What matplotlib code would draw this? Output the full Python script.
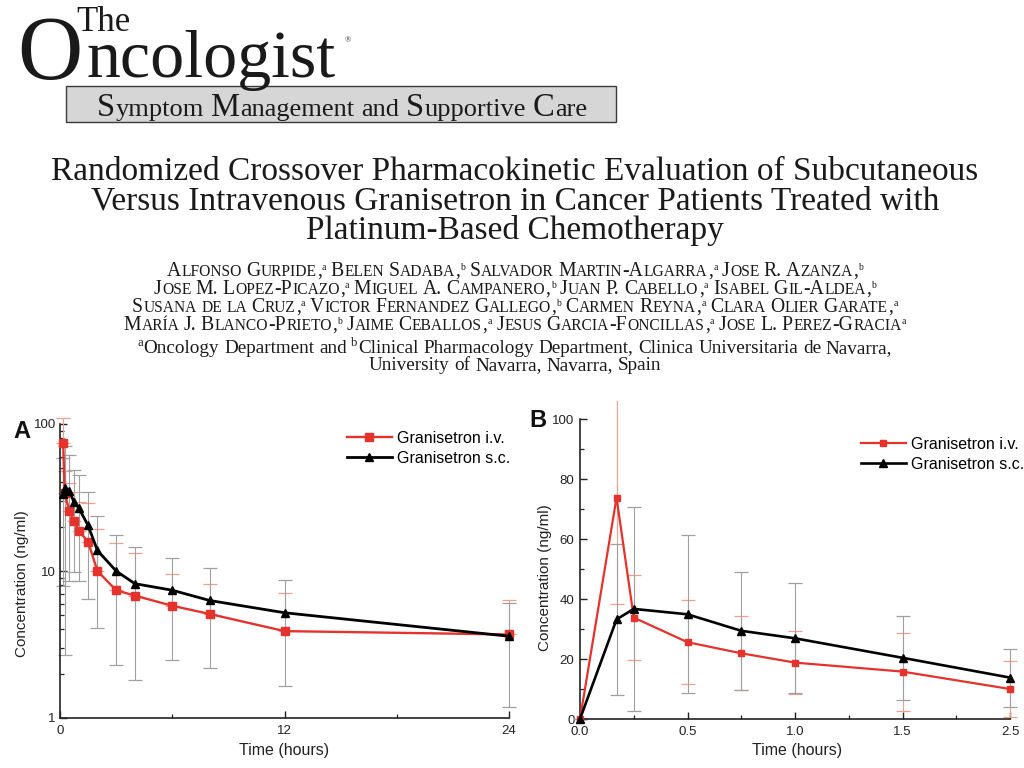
import numpy as np
import matplotlib
matplotlib.use("Agg")
import matplotlib.pyplot as plt
from matplotlib.ticker import FixedLocator, LogLocator, NullFormatter
from matplotlib.patches import Rectangle

# ---------------- data ----------------
time_h = [0.17, 0.25, 0.5, 0.75, 1, 1.5, 2, 3, 4, 6, 8, 12, 24]
iv_mean = [73.8, 33.8, 25.6, 21.9, 18.8, 15.8, 10.0, 7.4, 6.8, 5.8, 5.1, 3.9, 3.7]
iv_sd = [35.5, 14.2, 14.0, 12.3, 10.6, 13.0, 9.4, 8.0, 6.5, 3.7, 3.0, 3.2, 2.6]
sc_mean = [33.2, 36.7, 34.9, 29.4, 26.9, 20.4, 13.8, 10.0, 8.2, 7.4, 6.3, 5.2, 3.6]
sc_sd = [25.3, 34.0, 26.3, 19.6, 18.3, 14.0, 9.7, 7.7, 6.4, 4.9, 4.1, 3.55, 2.42]

# panel B: first 2.5 h (with the pre-dose zero)
n_early = 7
time_b = [0.0] + time_h[:n_early]
iv_b = [0.0] + iv_mean[:n_early]
iv_b_sd = [0.0] + iv_sd[:n_early]
sc_b = [0.0] + sc_mean[:n_early]
sc_b_sd = [0.0] + sc_sd[:n_early]
b_tick_pos = [0, 0.5, 1.0, 1.5, 2.0]
b_tick_labels = ["0.0", "0.5", "1.0", "1.5", "2.5"]

a_xticks = [0, 12, 24]
a_yticks = [1, 10, 100]
a_yticklabels = ["1", "10", "100"]
b_yticks = [0, 20, 40, 60, 80, 100]

series_labels = ["Granisetron i.v.", "Granisetron s.c."]

journal_the = "The"
journal_o = "O"
journal_rest = "ncologist"
section = "Symptom Management and Supportive Care"
title_lines = [
    "Randomized Crossover Pharmacokinetic Evaluation of Subcutaneous",
    "Versus Intravenous Granisetron in Cancer Patients Treated with",
    "Platinum-Based Chemotherapy",
]
author_lines = [
    "Alfonso Gurpide,^a Belen Sadaba,^b Salvador Martin-Algarra,^a Jose R. Azanza,^b",
    "Jose M. Lopez-Picazo,^a Miguel A. Campanero,^b Juan P. Cabello,^a Isabel Gil-Aldea,^b",
    "Susana de la Cruz,^a Victor Fernandez Gallego,^b Carmen Reyna,^a Clara Olier Garate,^a",
    "María J. Blanco-Prieto,^b Jaime Ceballos,^a Jesus Garcia-Foncillas,^a Jose L. Perez-Gracia^a",
]
affil_lines = [
    "^aOncology Department and ^bClinical Pharmacology Department, Clinica Universitaria de Navarra,",
    "University of Navarra, Navarra, Spain",
]

# ---------------- style ----------------
W, H = 1024, 768
SERIF = "Liberation Serif"
SANS = "Liberation Sans"
RED = "#e5322d"
IV_ERR = "#eea08c"
SC_ERR = "#a0a0a0"
INK = "#1a1a1a"

plt.rcParams["font.family"] = SANS
fig = plt.figure(figsize=(W / 100, H / 100), dpi=100)
fig.patch.set_facecolor("white")


def fx(x):
    return x / W


def fy(y):
    return 1 - y / H


renderer = fig.canvas.get_renderer()


def rich_line(line, y_base, cx, big, small, sup, mode, sup_raise, color=INK, word_gap=0.28):
    """Draw a line made of pieces of different sizes (small caps / initials / superscripts)."""
    pieces = []
    for wi, w in enumerate(line.split(" ")):
        runs = []
        i = 0
        while i < len(w):
            if w[i] == "^":
                runs.append([w[i + 1], "sup"])
                i += 2
                continue
            ch = w[i]
            if mode == "plain":
                kind = "big"
            else:
                kind = "small" if ch.islower() else "big"
            txt = ch.upper() if mode == "smallcaps" else ch
            if runs and runs[-1][1] == kind:
                runs[-1][0] += txt
            else:
                runs.append([txt, kind])
            i += 1
        for k, (txt, kind) in enumerate(runs):
            pieces.append((txt, kind, wi > 0 and k == 0))
    size_of = {"big": big, "small": small, "sup": sup}
    texts, widths, gaps = [], [], []
    for txt, kind, newword in pieces:
        t = fig.text(0, 0, txt, fontsize=size_of[kind], family=SERIF,
                     ha="left", va="baseline", color=color)
        texts.append((t, kind))
        widths.append(t.get_window_extent(renderer).width)
        gaps.append(word_gap * small * 100 / 72 if newword else 0.02 * small * 100 / 72)
    gaps[0] = 0
    total = sum(widths) + sum(gaps)
    x = cx - total / 2
    for (t, kind), w, g in zip(texts, widths, gaps):
        x += g
        dy = -sup_raise if kind == "sup" else 0
        t.set_position((fx(x), fy(y_base + dy)))
        x += w


# ---------------- header ----------------
fig.text(fx(17), fy(79), journal_o, fontsize=65, family=SERIF, color=INK,
         ha="left", va="baseline")
fig.text(fx(76), fy(31), journal_the, fontsize=25, family=SERIF, color=INK,
         ha="left", va="baseline")
fig.text(fx(86), fy(77), journal_rest, fontsize=49, family=SERIF, color=INK,
         ha="left", va="baseline")
fig.text(fx(345), fy(42), "\u00ae", fontsize=6, family=SERIF, color="#333333",
         ha="left", va="baseline")

fig.patches.append(Rectangle((fx(66), fy(122)), (616 - 66) / W, 36 / H,
                             transform=fig.transFigure, facecolor="#d6d6d6",
                             edgecolor="#3a3a3a", linewidth=1.0))
rich_line(section, 116, 342, 23.5, 19, 8, "initials", 0, word_gap=0.25)

for line, yb in zip(title_lines, [180, 209.5, 239]):
    fig.text(fx(515), fy(yb), line, fontsize=24, family=SERIF, color=INK,
             ha="center", va="baseline")

for line, yb in zip(author_lines, [276, 294, 312, 330]):
    rich_line(line, yb, 515, 14.2, 11.2, 7, "smallcaps", 6.0)

for line, yb in zip(affil_lines, [353, 370]):
    rich_line(line, yb, 515, 13.8, 13.8, 9, "plain", 6.5, word_gap=0.25)


# ---------------- panels ----------------
def ax_rect(l, t, r, b):
    return [l / W, 1 - b / H, (r - l) / W, (b - t) / H]


def style_axes(ax):
    for s in ["top", "right"]:
        ax.spines[s].set_visible(False)
    for s in ["left", "bottom"]:
        ax.spines[s].set_linewidth(1.2)
        ax.spines[s].set_color("#222222")
    ax.tick_params(which="major", direction="in", length=5, width=1.0,
                   labelsize=9.5, pad=3, colors="#222222")
    ax.tick_params(which="minor", direction="in", length=3, width=0.9, colors="#222222")
    ax.tick_params(axis="x", which="major", pad=5)
    ax.set_facecolor("none")


def unclip(container, clip_patch=None):
    for art in container.get_children():
        if clip_patch is None:
            art.set_clip_on(False)
        else:
            art.set_clip_on(True)
            art.set_clip_path(clip_patch)


# Panel A
axA = fig.add_axes(ax_rect(60, 424, 509, 718))
axA.set_yscale("log")
axA.set_xlim(0, 24)
axA.set_ylim(1, 100)
n = len(time_h)
eb = axA.errorbar(time_h, iv_mean, yerr=[np.zeros(n), iv_sd], fmt="none", ecolor=IV_ERR,
                  elinewidth=0.8, capsize=5, capthick=0.9, zorder=2)
unclip(eb)
eb = axA.errorbar(time_h, sc_mean, yerr=sc_sd, fmt="none", ecolor=SC_ERR,
                  elinewidth=0.8, capsize=5, capthick=0.9, zorder=2)
unclip(eb)
axA.plot(time_h, iv_mean, color=RED, lw=1.7, marker="s", ms=6, mec=RED, mfc=RED,
         label=series_labels[0], zorder=3, clip_on=False)
axA.plot(time_h, sc_mean, color="black", lw=2.0, marker="^", ms=5.5, mec="black",
         mfc="black", label=series_labels[1], zorder=4, clip_on=False)
axA.xaxis.set_major_locator(FixedLocator(a_xticks))
axA.xaxis.set_minor_locator(FixedLocator([6, 18]))
axA.set_yticks(a_yticks)
axA.set_yticklabels(a_yticklabels)
axA.yaxis.set_minor_locator(LogLocator(base=10, subs=np.arange(2, 10)))
axA.yaxis.set_minor_formatter(NullFormatter())
style_axes(axA)
axA.legend(loc="upper left", bbox_to_anchor=(fx(347), fy(431)), bbox_transform=fig.transFigure,
           frameon=False, fontsize=11.5, handlelength=2.8, handletextpad=0.3,
           labelspacing=0.3, borderpad=0, borderaxespad=0, numpoints=1)

fig.text(fx(22), fy(584), "Concentration (ng/ml)", rotation=90, ha="center", va="center",
         fontsize=11, color="#222222")
fig.text(fx(284), fy(751), "Time (hours)", ha="center", va="center", fontsize=11.5,
         color="#222222")
fig.text(fx(13), fy(438), "A", fontsize=17, fontweight="bold", ha="left", va="baseline",
         color="#111111")

# Panel B
axB = fig.add_axes(ax_rect(580, 419, 1010, 719))
axB.set_xlim(0, 2.0)
axB.set_ylim(0, 100)
# the panel image starts just below the affiliation text: error bars are cut there
panel_clip = Rectangle((0, 0), 1, fy(401), transform=fig.transFigure, visible=False)
fig.add_artist(panel_clip)
eb = axB.errorbar(time_b, iv_b, yerr=iv_b_sd, fmt="none", ecolor=IV_ERR,
                  elinewidth=0.8, capsize=5, capthick=0.9, zorder=2)
unclip(eb, panel_clip)
eb = axB.errorbar(time_b, sc_b, yerr=sc_b_sd, fmt="none", ecolor=SC_ERR,
                  elinewidth=0.8, capsize=5, capthick=0.9, zorder=2)
unclip(eb, panel_clip)
axB.plot(time_b, iv_b, color=RED, lw=1.6, marker="s", ms=4.8, mec=RED, mfc=RED,
         label=series_labels[0], zorder=3, clip_on=False)
axB.plot(time_b, sc_b, color="black", lw=1.9, marker="^", ms=5.2, mec="black",
         mfc="black", label=series_labels[1], zorder=4, clip_on=False)
axB.set_xticks(b_tick_pos)
axB.set_xticklabels(b_tick_labels)
axB.xaxis.set_minor_locator(FixedLocator([0.25, 0.75, 1.25, 1.75]))
axB.set_yticks(b_yticks)
axB.yaxis.set_minor_locator(FixedLocator([10, 30, 50, 70, 90]))
style_axes(axB)
axB.tick_params(axis="y", which="major", pad=4)
axB.legend(loc="upper left", bbox_to_anchor=(fx(861), fy(437)), bbox_transform=fig.transFigure,
           frameon=False, fontsize=11.5, handlelength=2.8, handletextpad=0.3,
           labelspacing=0.3, borderpad=0, borderaxespad=0, numpoints=1)

fig.text(fx(545), fy(578), "Concentration (ng/ml)", rotation=90, ha="center", va="center",
         fontsize=11, color="#222222")
fig.text(fx(797), fy(751), "Time (hours)", ha="center", va="center", fontsize=11.5,
         color="#222222")
fig.text(fx(529), fy(427), "B", fontsize=17, fontweight="bold", ha="left", va="baseline",
         color="#111111")

fig.savefig("out.png", dpi=100, facecolor="white")
